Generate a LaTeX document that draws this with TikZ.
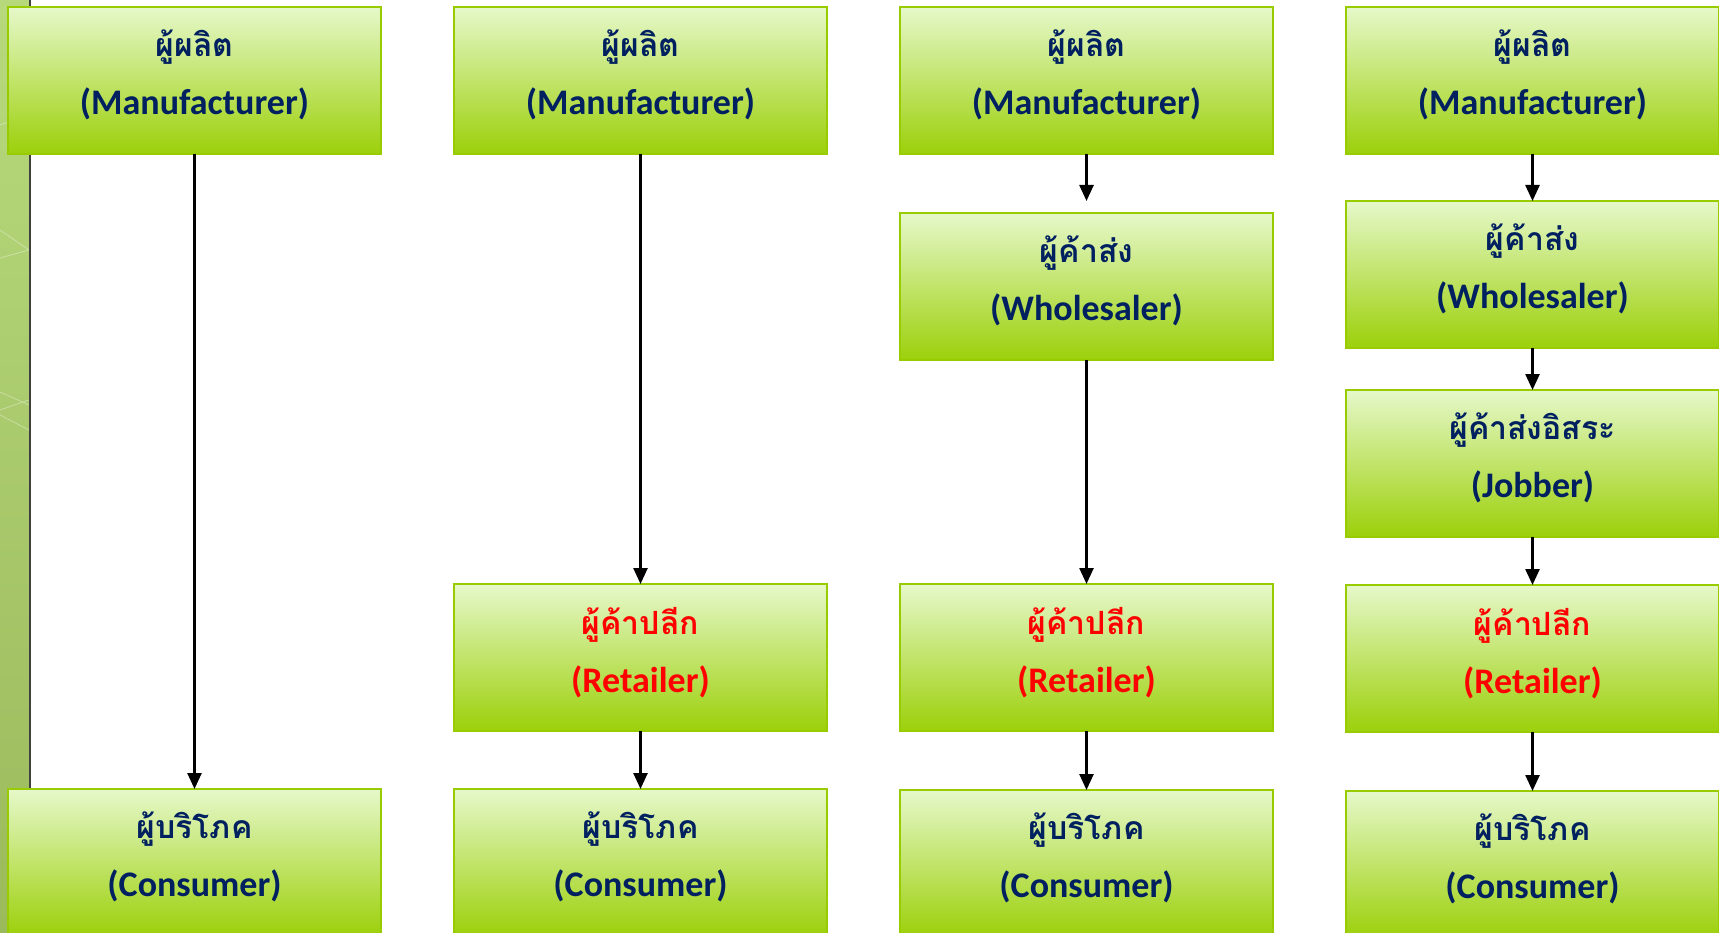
\documentclass[tikz,border=0pt]{standalone}
\usepackage{fontspec}
\setmainfont{Carlito}
\newfontfamily\thaifont[Script=Thai]{Loma}
\usepackage{xcolor}
\usepackage{tikz}
\usetikzlibrary{positioning, arrows.meta}

\definecolor{navy}{HTML}{002060}
\definecolor{boxline}{HTML}{99CC00}
\definecolor{boxtop}{HTML}{E6F8CA}
\definecolor{boxmid}{HTML}{C8FC78}
\definecolor{boxbot}{HTML}{9CD00A}
\definecolor{striptop}{HTML}{B7D97C}
\definecolor{stripbot}{HTML}{9BBA5C}

\newcommand{\thline}[1]{{\thaifont\fontsize{32}{58}\selectfont #1}}

\begin{document}
\begin{tikzpicture}[x=1pt,y=1pt,-,auto,node distance=1cm,
                    chan node/.style={draw=boxline,line width=2pt,top color=boxtop,
                      middle color=boxmid,bottom color=boxbot,minimum width=373pt,
                      minimum height=147pt,inner sep=0pt,outer sep=0pt,align=center,
                      text=navy,font=\fontsize{36}{58}\selectfont\bfseries,
                      execute at end node={\rule[-16pt]{0pt}{0pt}}},
                    link/.style={line width=2.5pt,-{Triangle[width=14pt,length=16pt]}}]

  \useasboundingbox (0,0) rectangle (1719,-933);
  \clip (0,0) rectangle (1719,-933);

  % side strip
  \shade[top color=striptop,bottom color=stripbot] (0,0) rectangle (29,-933);
  \draw[white,opacity=0.35,line width=0.8pt] (0,-125) -- (29,-115) (0,-258) -- (29,-250) (0,-230) -- (29,-250)
    (0,-392) -- (29,-405) (0,-410) -- (29,-400) (0,-415) -- (29,-430);
  \draw[color=black!75,line width=2pt] (29.5,0) -- (29.5,-933);

  % column 1
  \node[chan node] (m1) at (194.5,-80.5) {\thline{ผู้ผลิต}\\(Manufacturer)};
  \node[chan node] (c1) [below=635pt of m1] {\thline{ผู้บริโภค}\\(Consumer)};

  % column 2
  \node[chan node] (m2) at (640.5,-80.5) {\thline{ผู้ผลิต}\\(Manufacturer)};
  \node[chan node,text=red] (r2) [below=430pt of m2] {\thline{ผู้ค้าปลีก}\\(Retailer)};
  \node[chan node] (c2) [below=58pt of r2] {\thline{ผู้บริโภค}\\(Consumer)};

  % column 3
  \node[chan node] (m3) at (1086.5,-80.5) {\thline{ผู้ผลิต}\\(Manufacturer)};
  \node[chan node] (w3) [below=59pt of m3] {\thline{ผู้ค้าส่ง}\\(Wholesaler)};
  \node[chan node,text=red] (r3) [below=224pt of w3] {\thline{ผู้ค้าปลีก}\\(Retailer)};
  \node[chan node] (c3) [below=59pt of r3] {\thline{ผู้บริโภค}\\(Consumer)};

  % column 4
  \node[chan node] (m4) at (1532.5,-80.5) {\thline{ผู้ผลิต}\\(Manufacturer)};
  \node[chan node] (w4) [below=47pt of m4] {\thline{ผู้ค้าส่ง}\\(Wholesaler)};
  \node[chan node] (j4) [below=42pt of w4] {\thline{ผู้ค้าส่งอิสระ}\\(Jobber)};
  \node[chan node,text=red] (r4) [below=48pt of j4] {\thline{ผู้ค้าปลีก}\\(Retailer)};
  \node[chan node] (c4) [below=59pt of r4] {\thline{ผู้บริโภค}\\(Consumer)};

  \path[link]
  (m1) edge (c1)
  (m2) edge (r2)
  (r2) edge (c2)
  (m3) edge[shorten >=12pt] (w3)
  (w3) edge (r3)
  (r3) edge (c3)
  (m4) edge (w4)
  (w4) edge (j4)
  (j4) edge (r4)
  (r4) edge (c4);

\end{tikzpicture}
\end{document}
